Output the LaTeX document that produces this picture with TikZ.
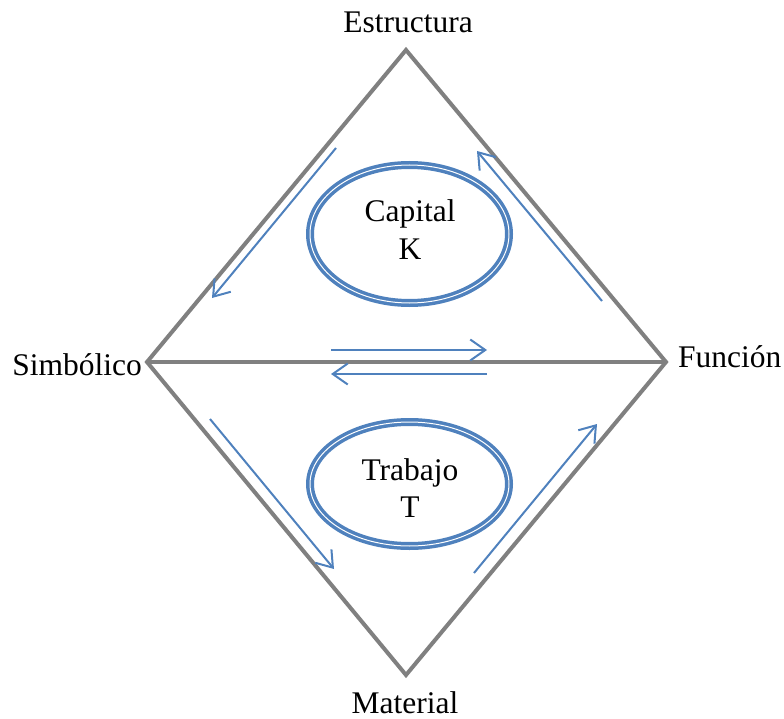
\documentclass[tikz,border=0pt]{standalone}
\usepackage{fontspec}
\setmainfont{Liberation Serif}
\usetikzlibrary{arrows.meta,shapes.geometric}

\definecolor{diagray}{RGB}{128,128,128}
\definecolor{flowblue}{RGB}{79,129,189}

\tikzset{
  side/.style={draw=diagray,line width=4pt},
  flow/.style={draw=flowblue,line width=2pt,-{Straight Barb[length=15pt,width=21pt]}},
  ring/.style={ellipse,draw=flowblue,line width=3.5pt,double=white,double distance=1pt,minimum width=199pt},
  word/.style={inner sep=0pt,font=\fontsize{31.5}{37.5}\selectfont},
}

\begin{document}
\begin{tikzpicture}[x=1pt,y=-1pt]
    \useasboundingbox (0,0) rectangle (784,719);

    % Corners of the diamond
    \coordinate (estructura) at (406,50);
    \coordinate (simbolico) at (147,362);
    \coordinate (funcion) at (666,362);
    \coordinate (material) at (406,675);
    \draw[side] (simbolico) -- (estructura) -- (funcion) -- (material) -- cycle;
    \draw[side] (simbolico) -- (funcion);

    % Corner labels
    \node[word,anchor=base] (estructuralab) at (408,33) {Estructura};
    \node[word,anchor=base east] (simbolicolab) at (142,375) {Simbólico};
    \node[word,anchor=base west] (funcionlab) at (678,367) {Función};
    \node[word,anchor=base] (materiallab) at (405,713.5) {Material};

    % Rings
    \node[ring,minimum height=138pt] (capital) at (409.5,234) {};
    \node[word,align=center] (capitallab) at (410,229.5) {Capital\\K};
    \node[ring,minimum height=124pt] (trabajo) at (409.5,484) {};
    \node[word,align=center] (trabajolab) at (410,488) {Trabajo\\T};

    % Arrow ends
    \coordinate (a1) at (336,148); \coordinate (b1) at (212,298);
    \coordinate (a2) at (602,301); \coordinate (b2) at (477,151);
    \coordinate (a3) at (331,350); \coordinate (b3) at (487,350);
    \coordinate (a4) at (487,374); \coordinate (b4) at (331,374);
    \coordinate (a5) at (210,419); \coordinate (b5) at (334,569);
    \coordinate (a6) at (474,573); \coordinate (b6) at (597,424);
    \foreach \i in {1,...,6}
        \draw[flow] (a\i) -- (b\i);
\end{tikzpicture}
\end{document}
